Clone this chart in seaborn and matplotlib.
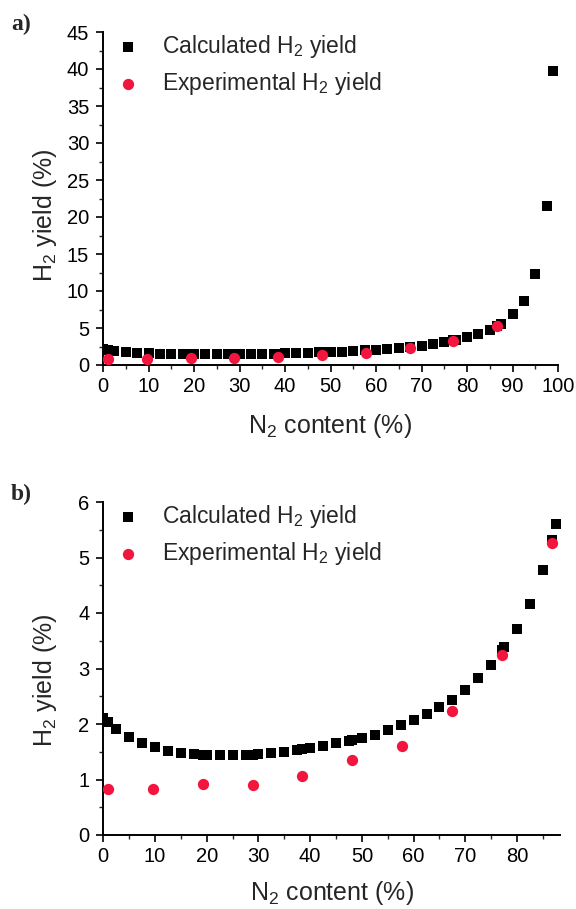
import matplotlib
matplotlib.use("Agg")
import matplotlib.pyplot as plt
import seaborn as sns
import pandas as pd
from matplotlib.ticker import MultipleLocator

# ---- data ----
calc_x = [0, 1, 2.5, 5, 7.5, 10, 12.5, 15, 17.5, 19.3, 20, 22.5, 25, 27.5, 28.9, 30,
          32.5, 35, 37.5, 38.5, 40, 42.5, 45, 47.5, 48.1, 50, 52.5, 55, 57.5, 60,
          62.5, 65, 67.4, 70, 72.5, 75, 77.0, 77.5, 80, 82.5, 85, 86.7, 87.5, 90,
          92.5, 95, 97.5, 99]
calc_y = [2.10, 2.04, 1.91, 1.76, 1.65, 1.58, 1.52, 1.48, 1.46, 1.45, 1.44, 1.44, 1.44,
          1.44, 1.45, 1.46, 1.48, 1.50, 1.53, 1.55, 1.57, 1.61, 1.65, 1.69, 1.71, 1.75,
          1.81, 1.89, 1.98, 2.07, 2.18, 2.30, 2.44, 2.62, 2.82, 3.06, 3.33, 3.38, 3.72,
          4.17, 4.77, 5.32, 5.60, 6.85, 8.7, 12.3, 21.5, 39.7]
exp_x = [1, 9.7, 19.3, 28.9, 38.5, 48.1, 57.7, 67.4, 77.0, 86.7]
exp_y = [0.83, 0.82, 0.91, 0.90, 1.07, 1.36, 1.61, 2.23, 3.24, 5.27]

calc_label = "Calculated H$_2$ yield"
exp_label = "Experimental H$_2$ yield"
xlabel = "N$_2$ content (%)"
ylabel = "H$_2$ yield (%)"

calc = pd.DataFrame({"x": calc_x, "y": calc_y})
expd = pd.DataFrame({"x": exp_x, "y": exp_y})

sns.set_style("ticks")
plt.rcParams["font.family"] = ["Liberation Sans", "DejaVu Sans"]
plt.rcParams["mathtext.fontset"] = "custom"
plt.rcParams["mathtext.rm"] = "Liberation Sans"
plt.rcParams["mathtext.it"] = "Liberation Sans:italic"
plt.rcParams["mathtext.bf"] = "Liberation Sans:bold"

W, H = 576, 909
fig = plt.figure(figsize=(W / 100, H / 100), dpi=100)

RED = "#F2163F"


def fx(px):
    return px / W


def fy(py):
    return 1 - py / H


def make_panel(box, xlim, ylim, xmaj, xmin, ymaj, ymin, ylab_y, xlab_base, tag, tag_base):
    l, r, t, b = box
    ax = fig.add_axes([fx(l), fy(b), (r - l) / W, (b - t) / H])
    sns.scatterplot(data=calc, x="x", y="y", ax=ax, marker="s", s=44, color="black",
                    linewidth=0, label=calc_label, zorder=3, clip_on=True)
    sns.scatterplot(data=expd, x="x", y="y", ax=ax, marker="o", s=66, color=RED,
                    linewidth=0, label=exp_label, zorder=4, clip_on=True)
    ax.set_xlim(*xlim)
    ax.set_ylim(*ylim)
    ax.xaxis.set_major_locator(MultipleLocator(xmaj))
    ax.xaxis.set_minor_locator(MultipleLocator(xmin))
    ax.yaxis.set_major_locator(MultipleLocator(ymaj))
    ax.yaxis.set_minor_locator(MultipleLocator(ymin))
    ax.tick_params(which="major", direction="out", length=5, width=1.2, labelsize=14.5,
                   colors="black")
    ax.tick_params(axis="x", which="major", pad=4)
    ax.tick_params(axis="y", which="major", pad=5)
    ax.tick_params(which="minor", direction="out", length=3, width=1.0)
    for s in ["top", "right"]:
        ax.spines[s].set_visible(False)
    for s in ["left", "bottom"]:
        ax.spines[s].set_linewidth(1.4)
        ax.spines[s].set_color("black")
    ax.set_xlabel("")
    ax.set_ylabel("")
    fig.text(fx((l + r) / 2), fy(xlab_base), xlabel, ha="center", va="baseline",
             fontsize=18)
    fig.text(fx(45), fy(ylab_y), ylabel, ha="center", va="center", rotation=90,
             fontsize=18)
    fig.text(fx(11), fy(tag_base), tag, ha="left", va="baseline", fontsize=17,
             fontweight="bold", family="Liberation Serif")
    ax.legend(loc="upper left", bbox_to_anchor=(fx(117), fy(t + 1)),
              bbox_transform=fig.transFigure, frameon=False, fontsize=16.5,
              handlelength=1.0, handletextpad=0.95, borderpad=0,
              borderaxespad=0, labelspacing=0.45, markerscale=1.0)
    return ax


make_panel((103, 558, 32, 365), (0, 100), (0, 45), 10, 5, 5, 2.5,
           215, 433, "a)", 30)
make_panel((103.3, 560, 502, 835), (0, 88.3), (0, 6), 10, 5, 1, 0.5,
           680, 900, "b)", 500)

fig.savefig("out.png", dpi=100)
